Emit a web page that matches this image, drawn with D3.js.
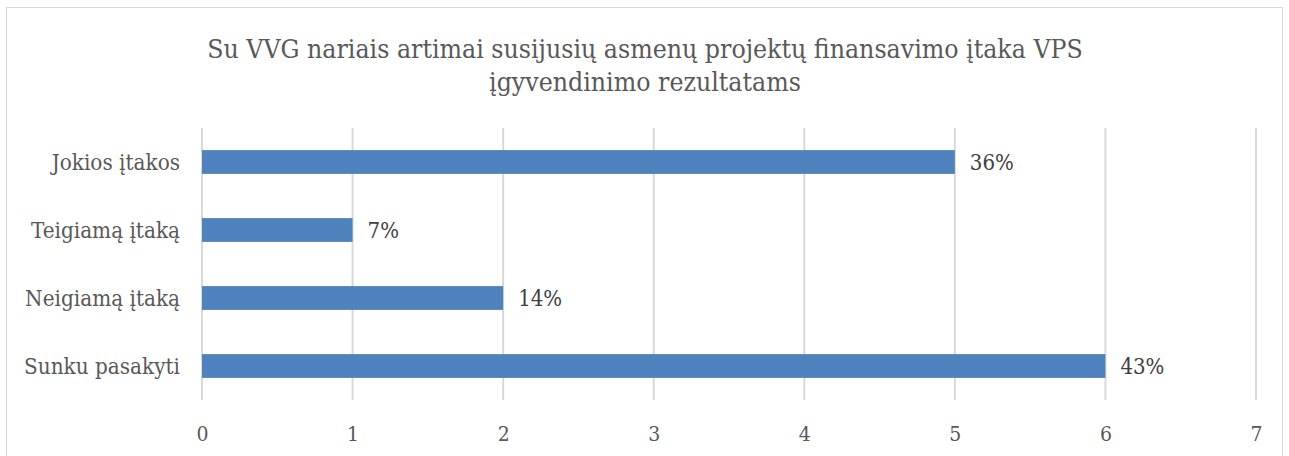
<!DOCTYPE html>
<html>
<head>
<meta charset="utf-8">
<script src="https://cdn.jsdelivr.net/npm/d3@7"></script>
<style>
  body { margin: 0; background: #fff; }
  svg text { font-family: "DejaVu Serif Condensed", "DejaVu Serif", serif; font-stretch: condensed; }
</style>
</head>
<body>
<div id="chart"></div>
<script>
// chart data
const categories = ["Jokios įtakos", "Teigiamą įtaką", "Neigiamą įtaką", "Sunku pasakyti"];
const values = [5, 1, 2, 6];
const percentLabels = ["36%", "7%", "14%", "43%"];
const xTicks = [0, 1, 2, 3, 4, 5, 6, 7];
const titleLines = ["Su VVG nariais artimai susijusių asmenų projektų finansavimo įtaka VPS", "įgyvendinimo rezultatams"];

const width = 1289, height = 456;
const margin = {left: 202, right: 33, top: 128, bottom: 56};

let svg = d3.select("#chart").append("svg")
    .attr("width", width)
    .attr("height", height);

// outer frame
svg.append("rect")
    .attr("x", 6.5).attr("y", 7.5)
    .attr("width", 1276).attr("height", 460)
    .attr("fill", "#fff")
    .attr("stroke", "#d9d9d9");

let x = d3.scaleLinear().domain([0, 7]).range([margin.left, width - margin.right]);
let y = d3.scaleBand().domain(categories)
    .range([margin.top, height - margin.bottom])
    .paddingInner(0.65).paddingOuter(0.325);

// gridlines
svg.append("g").selectAll("line")
    .data(xTicks)
    .enter().append("line")
    .attr("x1", d => x(d)).attr("x2", d => x(d))
    .attr("y1", margin.top).attr("y2", height - margin.bottom)
    .attr("stroke", "#d9d9d9")
    .attr("stroke-width", 2);

// bars
svg.append("g").selectAll("rect")
    .data(categories)
    .enter().append("rect")
    .attr("x", x(0))
    .attr("y", d => y(d))
    .attr("width", (d, i) => x(values[i]) - x(0))
    .attr("height", y.bandwidth())
    .attr("fill", "#4f81bd");

// data labels
svg.append("g").selectAll("text")
    .data(categories)
    .enter().append("text")
    .attr("x", (d, i) => x(values[i]) + 15)
    .attr("y", d => y(d) + y.bandwidth() / 2)
    .attr("dy", "0.38em")
    .attr("font-size", 22)
    .attr("fill", "#404040")
    .text((d, i) => percentLabels[i]);

// x axis
let xAxis = d3.axisBottom(x).tickValues(xTicks).tickFormat(d3.format("d")).tickSize(0).tickPadding(26);
let gx = svg.append("g")
    .attr("transform", "translate(0," + (height - margin.bottom) + ")")
    .call(xAxis);
gx.select(".domain").remove();
gx.attr("font-family", null);
gx.selectAll("text").attr("font-size", 21).attr("fill", "#595959");

// y axis
let yAxis = d3.axisLeft(y).tickSize(0).tickPadding(22);
let gy = svg.append("g")
    .attr("transform", "translate(" + margin.left + ",0)")
    .call(yAxis);
gy.select(".domain").remove();
gy.attr("font-family", null);
gy.selectAll("text").attr("font-size", 22.3).attr("fill", "#595959").attr("dy", "0.38em");

// title
svg.append("g").selectAll("text")
    .data(titleLines)
    .enter().append("text")
    .attr("x", 645)
    .attr("y", (d, i) => 58 + i * 33)
    .attr("text-anchor", "middle")
    .attr("font-size", 26.4)
    .attr("fill", "#595959")
    .text(d => d);
</script>
</body>
</html>
